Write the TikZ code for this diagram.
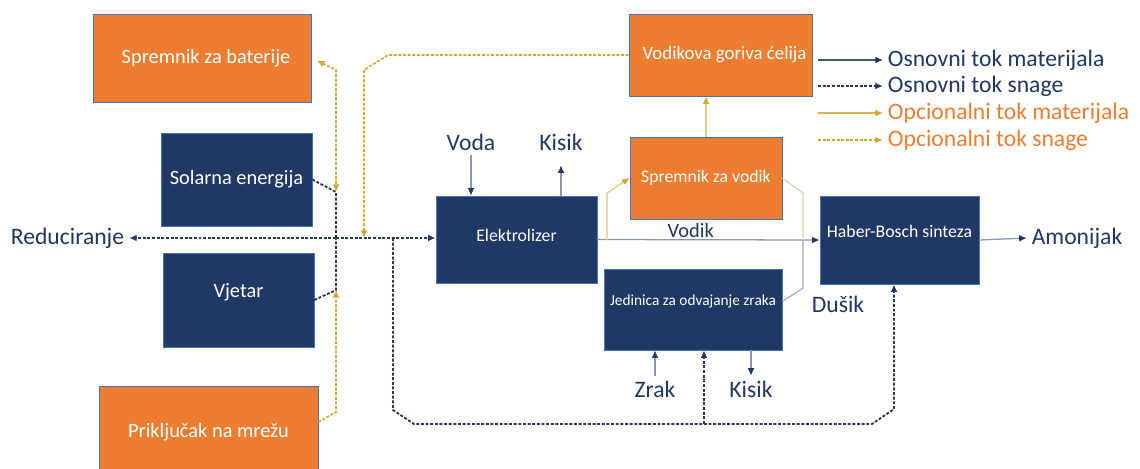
\documentclass[tikz,border=0pt]{standalone}
\usepackage{fontspec}
\setmainfont{Carlito}
\usepackage{tikz}
\usetikzlibrary{
  arrows.meta,
  calc,
  positioning
}
\definecolor{boxnavy}{HTML}{203864}
\definecolor{boxorange}{HTML}{ED7D31}
\definecolor{edgeblue}{HTML}{4472C4}
\definecolor{ink}{HTML}{1F3864}
\definecolor{pwrnavy}{HTML}{2B3856}
\definecolor{gold}{HTML}{D6A532}
\definecolor{goldpale}{HTML}{E5C973}
\definecolor{matgray}{HTML}{8A96B3}
\definecolor{h2pale}{HTML}{DDD3A8}
\definecolor{n2gray}{HTML}{A9ABB8}
\tikzset{
  >=Latex,
  navyhead/.tip={Latex[length=1.9mm,width=1.7mm,color=ink]},
  goldhead/.tip={Latex[length=1.9mm,width=1.7mm,color=gold]},
  every node/.style={text=ink},
  procbox/.style={
    draw=edgeblue,
    line width=0.5pt,
    inner sep=2pt,
    align=center,
    text=white
  },
  navybox/.style={procbox, fill=boxnavy},
  orangebox/.style={procbox, fill=boxorange},
  bigtext/.style={font=\fontsize{14.5}{16}\selectfont},
  fctext/.style={font=\fontsize{13.4}{15}\selectfont},
  midtext/.style={font=\fontsize{12.6}{14}\selectfont},
  smalltext/.style={font=\fontsize{10.9}{12}\selectfont},
  flowlabel/.style={font=\fontsize{16.8}{18}\selectfont, text=ink},
  legtext/.style={font=\fontsize{16.8}{18}\selectfont, anchor=west},
  pwr/.style={draw=pwrnavy, line width=1.3pt, dash pattern=on 2.1pt off 1.2pt},
  optpwr/.style={draw=gold, line width=1.2pt, dash pattern=on 2.1pt off 1.2pt},
  mat/.style={draw=matgray, line width=0.9pt},
  optmat/.style={draw=goldpale, line width=0.9pt},
  h2line/.style={draw=h2pale, line width=0.9pt},
  n2line/.style={draw=n2gray, line width=0.9pt},
}

\begin{document}
\begin{tikzpicture}[x=0.25mm, y=-0.25mm]
  \useasboundingbox (0,0) rectangle (1140,468);
  \fill[white] (0,0) rectangle (1140,468);

  % ---------------------------------------------------------------
  % energy sources
  % ---------------------------------------------------------------
  \node[orangebox, bigtext, minimum width=54.5mm, minimum height=22mm]
    (bat) at (202,58) {\hspace*{2mm}Spremnik za baterije};
  \node[navybox, bigtext, minimum width=37.75mm, minimum height=23.25mm]
    (sol) at (236.5,179.5) {Solarna energija};
  \node[navybox, bigtext, minimum width=37.75mm, minimum height=23.5mm,
    text depth=5mm]
    (vjet) at (238.5,300) {Vjetar};
  \node[orangebox, bigtext, minimum width=54.75mm, minimum height=23mm]
    (mreza) at (208.5,432) {Priključak na mrežu};

  % ---------------------------------------------------------------
  % process units
  % ---------------------------------------------------------------
  \node[navybox, midtext, minimum width=40.25mm, minimum height=21.75mm,
    text depth=2.2mm]
    (elek) at (516.5,239.5) {Elektrolizer};
  \node[orangebox, fctext, minimum width=45.75mm, minimum height=20.5mm]
    (fc) at (720.5,55) {\hspace*{2mm}Vodikova goriva ćelija};
  \node[orangebox, midtext, minimum width=38mm, minimum height=20.5mm]
    (h2) at (706,178) {Spremnik za vodik};
  \node[navybox, smalltext, minimum width=44.5mm, minimum height=20.25mm,
    text depth=4.5mm]
    (asu) at (693,309.5) {Jedinica za odvajanje zraka};
  \node[navybox, midtext, minimum width=39.75mm, minimum height=22mm,
    text depth=4.4mm]
    (hb) at (899.5,240) {Haber-Bosch sinteza};

  % flow labels
  \node[flowlabel] (red)  at (67.5,238) {Reduciranje};
  \node[flowlabel] (voda) at (471,142)  {Voda};
  \node[flowlabel] (kis1) at (561,142)  {Kisik};
  \node[flowlabel] (zrak) at (655,389)  {Zrak};
  \node[flowlabel] (kis2) at (751,389)  {Kisik};
  \node[flowlabel] (dus)  at (838,304)  {Dušik};
  \node[flowlabel] (amon) at (1077,238) {Amonijak};

  % ---------------------------------------------------------------
  % power bus
  % ---------------------------------------------------------------
  \coordinate (jS)  at (336,192);
  \coordinate (jV)  at (336,290);
  \coordinate (jB)  at (336,238);
  \coordinate (jD)  at (393,238);
  \coordinate (jL1) at (393,410);
  \coordinate (jL2) at (414,424);
  \coordinate (jA)  at (704,424);
  \coordinate (jR2) at (872,424);
  \coordinate (jR1) at (894,409);

  \draw[pwr] (sol.east) -- (jS) -- (jB);
  \draw[pwr] (vjet.east) -- (jV) -- (jB);
  \draw[pwr, -{navyhead}] (jB) -- (red);
  \draw[pwr, -{navyhead}] (jB) -- (jB -| elek.west);
  \draw[pwr, -{navyhead}] (jD) -- (jL1) -- (jL2) -- (jR2) -- (jR1)
    -- (jR1 |- hb.south);
  \draw[pwr, -{navyhead}] (jA) -- (jA |- asu.south);

  % optional power
  \coordinate (jBt) at (336,70);
  \coordinate (jG)  at (336,412);
  \coordinate (jF)  at (364,238);
  \coordinate (jF1) at (364,70);
  \coordinate (jF2) at (388,55);

  \draw[optpwr, {goldhead}-{goldhead}, shorten <=1.5mm]
    (bat.east) -- (jBt) -- (jS);
  \draw[optpwr, -{goldhead}] ($(mreza.east)+(0,-10)$) -- (jG) -- (jV);
  \draw[optpwr, -{goldhead}] (fc.west) -- (jF2) -- (jF1) -- (jF);

  % ---------------------------------------------------------------
  % material flows
  % ---------------------------------------------------------------
  \draw[mat, -{navyhead}] (voda.south) -- (voda.south |- elek.north);
  \draw[mat, -{navyhead}, shorten >=2.5mm] (kis1.south |- elek.north) -- (kis1.south);
  \draw[mat, -{navyhead}] (elek.east) -- (hb.west)
    node[pos=0.42, above=-2pt, bigtext] (vodik) {Vodik};
  \draw[mat, -{navyhead}] (hb.east) -- (amon.west);
  \draw[mat, -{navyhead}] (zrak.north) -- (zrak.north |- asu.south);
  \draw[mat, -{navyhead}] (kis2.north |- asu.south) -- (kis2.north);

  % hydrogen storage branch
  \coordinate (jE)  at (607,240);
  \coordinate (jE2) at (607,193);
  \coordinate (jH)  at (803,240);
  \coordinate (jH2) at (803,193);
  \coordinate (jN)  at (803,288);

  \draw[optmat, -{goldhead}] (jE) -- (jE2) -- (h2.west);
  \draw[optmat, -{goldhead}] (h2.north) -- (h2.north |- fc.south);
  \draw[h2line] (h2.east) -- (jH2) -- (jH);
  \draw[n2line] ($(asu.east)+(0,-8)$) -- (jN) -- (jH);

  % ---------------------------------------------------------------
  % legend
  % ---------------------------------------------------------------
  \node[legtext, text=ink] (lgmat) at (883,60) {Osnovni tok materijala};
  \node[legtext, text=ink] (lgpwr) at (883,86) {Osnovni tok snage};
  \node[legtext, text=boxorange] (lgomat) at (883,113) {Opcionalni tok materijala};
  \node[legtext, text=boxorange] (lgopwr) at (883,140) {Opcionalni tok snage};
  \coordinate (lgmat0)  at (818,60);
  \coordinate (lgpwr0)  at (818,86);
  \coordinate (lgomat0) at (818,113);
  \coordinate (lgopwr0) at (818,140);

  \draw[draw=ink!85, line width=0.9pt, -{navyhead}] (lgmat0) -- (lgmat.west);
  \draw[pwr, line width=1.1pt, -{navyhead}] (lgpwr0) -- (lgpwr.west);
  \draw[draw=gold!85, line width=0.9pt, -{goldhead}] (lgomat0) -- (lgomat.west);
  \draw[optpwr, -{goldhead}] (lgopwr0) -- (lgopwr.west);

\end{tikzpicture}
\end{document}
